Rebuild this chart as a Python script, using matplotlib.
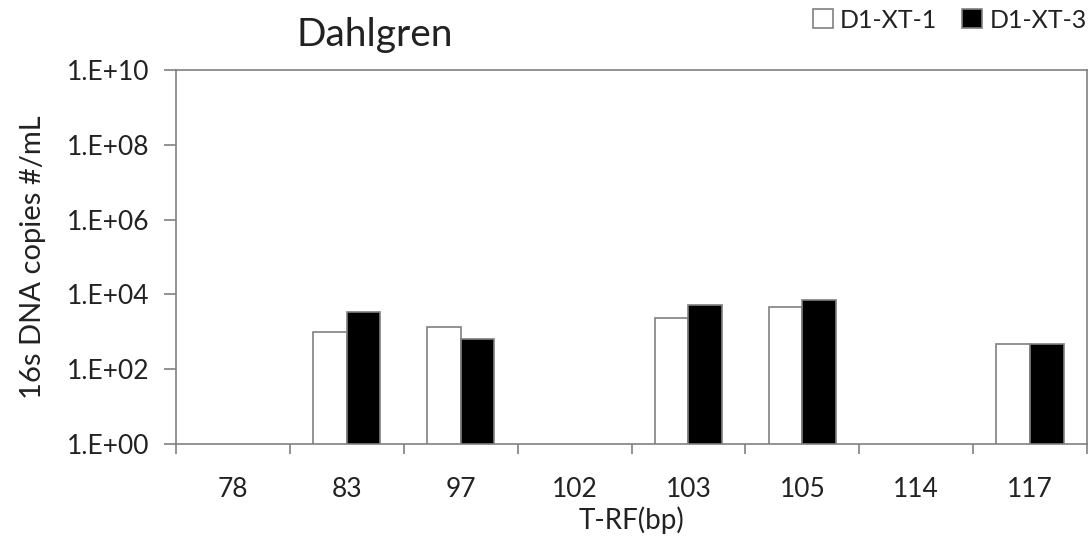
import matplotlib
matplotlib.use("Agg")
import matplotlib.pyplot as plt
import numpy as np
from matplotlib.ticker import FixedLocator, NullLocator

categories = ["78", "83", "97", "102", "103", "105", "114", "117"]
xt1 = [0, 1000, 1380, 0, 2400, 4700, 0, 470]
xt3 = [0, 3300, 630, 0, 5200, 7100, 0, 470]
ytick_vals = [1e0, 1e2, 1e4, 1e6, 1e8, 1e10]
ytick_labels = ["1.E+00", "1.E+02", "1.E+04", "1.E+06", "1.E+08", "1.E+10"]

plt.rcParams['font.family'] = ['Lato', 'DejaVu Sans']
fig = plt.figure(figsize=(10.91, 5.46), dpi=100)
ax = fig.add_axes([176/1091, 1-444/546, (1087-176)/1091, (444-70)/546])

x = np.arange(len(categories))
w = 0.295
v1 = [v if v > 0 else np.nan for v in xt1]
v3 = [v if v > 0 else np.nan for v in xt3]
ax.bar(x - w/2, v1, width=w, color="white", edgecolor="#808080", linewidth=1.2, label="D1-XT-1")
ax.bar(x + w/2, v3, width=w, color="black", edgecolor="#808080", linewidth=1.2, label="D1-XT-3")

ax.set_yscale("log")
ax.set_ylim(1, 1e10)
ax.set_xlim(-0.5, len(categories) - 0.5)
ax.yaxis.set_major_locator(FixedLocator(ytick_vals))
ax.yaxis.set_minor_locator(NullLocator())
ax.set_yticklabels(ytick_labels, fontsize=19, color="#222222")
ax.set_xticks(x)
ax.set_xticklabels(categories, fontsize=19, color="#222222")
ax.set_xticks(np.arange(len(categories) + 1) - 0.5, minor=True)
ax.tick_params(axis="x", which="major", length=0, pad=24)
ax.tick_params(axis="x", which="minor", length=7, color="#808080", width=1.2)
ax.tick_params(axis="y", which="major", length=9, color="#808080", width=1.2, pad=10)
for s in ax.spines.values():
    s.set_color("#808080")
    s.set_linewidth(1.2)

ax.set_xlabel("T-RF(bp)", fontsize=20, color="#222222", labelpad=3)
ax.set_ylabel("16s DNA copies #/mL", fontsize=21, color="#222222", labelpad=15)
fig.text(375/1091, 1-35/546, "Dahlgren", fontsize=28, ha="center", va="center", color="#222222")

leg = fig.legend(loc="center right", bbox_to_anchor=(1092/1091, 1-20/546), ncol=2, frameon=False,
                 fontsize=18, handlelength=0.8, handleheight=0.8, handletextpad=0.3, columnspacing=1.0,
                 borderaxespad=0.0, borderpad=0.2)
for t in leg.get_texts():
    t.set_color("#222222")

fig.savefig("out.png", dpi=100)
